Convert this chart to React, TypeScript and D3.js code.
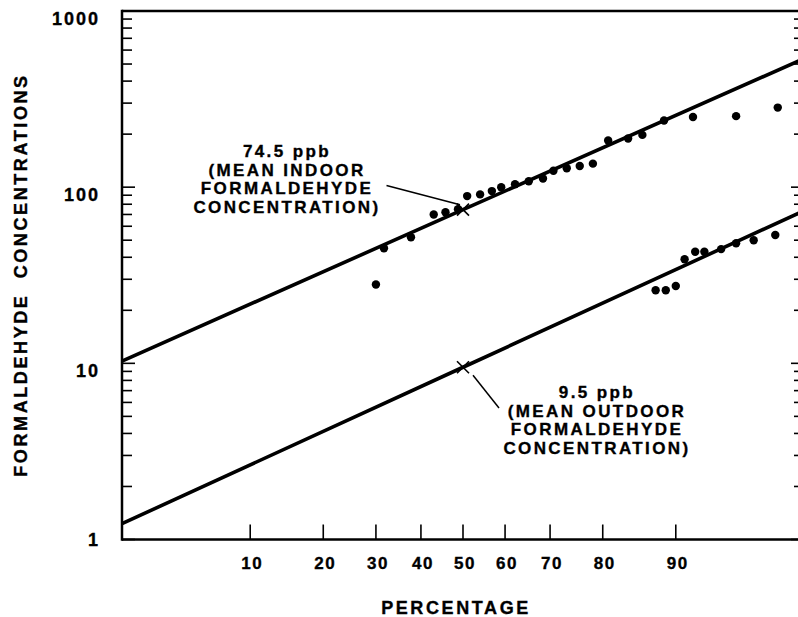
import React from "react";
import * as d3 from "d3";

// ---- data ----
const PCT_TICKS = [10, 20, 30, 40, 50, 60, 70, 80, 90];
const Y_LABELS = [1, 10, 100, 1000];

const indoorPct = [30, 31.7, 37.7, 43, 45.8, 48.8, 51, 54.1, 56.9, 59.1, 62.3, 65.4, 68.5, 70.7, 73.4, 75.9, 78.3, 80.9, 84, 86, 88.7, 91.7, 95, 97.1];
const indoorConc = [28, 45, 52, 70, 72, 75, 89, 91, 95, 100, 104, 108, 112, 124, 128, 132, 136, 184, 189, 198, 239, 250, 253, 283];

const outdoorPct = [87.7, 88.9, 90, 90.9, 91.9, 92.7, 94, 95, 96, 97];
const outdoorConc = [26, 26, 27.5, 39, 43, 43, 44.5, 48, 50, 53.5];

const indoorFitPct = [2, 50, 98];
const indoorFitConc = [10.3, 74.5, 537];
const outdoorFitPct = [2, 50, 98];
const outdoorFitConc = [1.23, 9.5, 73.5];

const indoorMean = { pct: 50, conc: 74.5 };
const outdoorMean = { pct: 50, conc: 9.5 };

const indoorNote = ["74.5 ppb", "(MEAN INDOOR", "FORMALDEHYDE", "CONCENTRATION)"];
const outdoorNote = ["9.5 ppb", "(MEAN OUTDOOR", "FORMALDEHYDE", "CONCENTRATION)"];

// inverse normal CDF (Acklam)
function probit(p: number): number {
  const a = [-3.969683028665376e1, 2.209460984245205e2, -2.759285104469687e2, 1.38357751867269e2, -3.066479806614716e1, 2.506628277459239];
  const b = [-5.447609879822406e1, 1.615858368580409e2, -1.556989798598866e2, 6.680131188771972e1, -1.328068155288572e1];
  const c = [-7.784894002430293e-3, -3.223964580411365e-1, -2.400758277161838, -2.549732539343734, 4.374664141464968, 2.938163982698783];
  const d = [7.784695709041462e-3, 3.224671290700398e-1, 2.445134137142996, 3.754408661907416];
  const plow = 0.02425;
  if (p < plow) {
    const q = Math.sqrt(-2 * Math.log(p));
    return (((((c[0] * q + c[1]) * q + c[2]) * q + c[3]) * q + c[4]) * q + c[5]) / ((((d[0] * q + d[1]) * q + d[2]) * q + d[3]) * q + 1);
  }
  if (p <= 1 - plow) {
    const q = p - 0.5;
    const r = q * q;
    return ((((((a[0] * r + a[1]) * r + a[2]) * r + a[3]) * r + a[4]) * r + a[5]) * q) / (((((b[0] * r + b[1]) * r + b[2]) * r + b[3]) * r + b[4]) * r + 1);
  }
  const q = Math.sqrt(-2 * Math.log(1 - p));
  return -(((((c[0] * q + c[1]) * q + c[2]) * q + c[3]) * q + c[4]) * q + c[5]) / ((((d[0] * q + d[1]) * q + d[2]) * q + d[3]) * q + 1);
}

const W = 798;
const H = 617;
const L = 122;
const R = 804;
const T = 11;
const B = 539.5;

const zScale = d3.scaleLinear().domain([probit(0.02), probit(0.98)]).range([L, R]);
const x = (pct: number) => zScale(probit(pct / 100));
const y = d3.scaleLog().domain([1, 1000]).range([B, T]);

const FONT = "'Liberation Sans', Arial, Helvetica, sans-serif";
const textStyle: React.CSSProperties = {
  fontFamily: FONT,
  fontWeight: "bold",
  fontSize: 17,
  letterSpacing: 2.4,
  stroke: "#000",
  strokeWidth: 0.35,
};

function Cross({ cx, cy }: { cx: number; cy: number }) {
  const s = 6;
  return (
    <g stroke="#000" strokeWidth={1.6}>
      <line x1={cx - s} y1={cy - s} x2={cx + s} y2={cy + s} />
      <line x1={cx - s} y1={cy + s} x2={cx + s} y2={cy - s} />
    </g>
  );
}

export default function App() {
  const line = d3
    .line<[number, number]>()
    .x((d) => x(d[0]))
    .y((d) => y(d[1]));
  const indoorFit = indoorFitPct.map((p, i) => [p, indoorFitConc[i]] as [number, number]);
  const outdoorFit = outdoorFitPct.map((p, i) => [p, outdoorFitConc[i]] as [number, number]);
  const yTicks = y.ticks();

  const ix = x(indoorMean.pct);
  const iy = y(indoorMean.conc);
  const ox = x(outdoorMean.pct);
  const oy = y(outdoorMean.conc);

  return (
    <svg
      width={W}
      height={H}
      style={{ position: "absolute", left: 0, top: 0, background: "#fff" }}
    >
      <rect x={0} y={0} width={W} height={H} fill="#fff" />
      {/* frame */}
      <g stroke="#000" strokeWidth={2.5} fill="none">
        <line x1={L} y1={T} x2={R} y2={T} />
        <line x1={L} y1={T - 1.2} x2={L} y2={B + 1.2} />
        <line x1={L} y1={B} x2={R} y2={B} />
        <line x1={R} y1={T} x2={R} y2={B} />
      </g>
      {/* y ticks left & right */}
      <g stroke="#000" strokeWidth={1.6}>
        {yTicks.map((t, i) => {
          const major = Math.abs(Math.log10(t) - Math.round(Math.log10(t))) < 1e-9;
          const len = major ? 13 : 10;
          return (
            <g key={i}>
              <line x1={L} x2={L + len} y1={y(t)} y2={y(t)} />
              <line x1={R} x2={R - len} y1={y(t)} y2={y(t)} />
            </g>
          );
        })}
      </g>
      {/* y tick labels */}
      {Y_LABELS.map((v, i) => (
        <text
          key={v}
          x={100}
          y={y(v) + (i === 0 ? 6.5 : 13.5)}
          textAnchor="end"
          style={{ ...textStyle, fontSize: 18, letterSpacing: 2 }}
        >
          {v}
        </text>
      ))}
      {/* x ticks */}
      <g stroke="#000" strokeWidth={1.6}>
        {PCT_TICKS.map((p) => (
          <line key={p} x1={x(p)} x2={x(p)} y1={B} y2={B - 15} />
        ))}
      </g>
      {PCT_TICKS.map((p) => (
        <text key={p} x={x(p) + 2} y={569} textAnchor="middle" style={{ ...textStyle, letterSpacing: 1.5 }}>
          {p}
        </text>
      ))}
      {/* axis titles */}
      <text x={456} y={614} textAnchor="middle" style={{ ...textStyle, fontSize: 18, letterSpacing: 2.6 }}>
        PERCENTAGE
      </text>
      <text
        transform={`translate(27,${275}) rotate(-90)`}
        textAnchor="middle"
        style={{ ...textStyle, fontSize: 18, letterSpacing: 2.6, whiteSpace: "pre" }}
      >
        {"FORMALDEHYDE  CONCENTRATIONS"}
      </text>
      {/* fitted lines */}
      <path d={line(indoorFit) || ""} stroke="#000" strokeWidth={3.6} fill="none" />
      <path d={line(outdoorFit) || ""} stroke="#000" strokeWidth={3.6} fill="none" />
      {/* points */}
      {indoorPct.map((p, i) => (
        <circle key={"i" + i} cx={x(p)} cy={y(indoorConc[i])} r={4.2} fill="#000" />
      ))}
      {outdoorPct.map((p, i) => (
        <circle key={"o" + i} cx={x(p)} cy={y(outdoorConc[i])} r={4.2} fill="#000" />
      ))}
      {/* mean markers */}
      <Cross cx={ix} cy={iy} />
      <Cross cx={ox} cy={oy} />
      {/* annotations */}
      <line x1={386.5} y1={185.5} x2={ix - 3} y2={iy - 5} stroke="#000" strokeWidth={1.5} />
      <line x1={ox + 10} y1={oy + 8} x2={499} y2={408} stroke="#000" strokeWidth={1.5} />
      {indoorNote.map((s, i) => (
        <text key={"in" + i} x={287} y={157 + i * 18.7} textAnchor="middle" style={textStyle}>
          {s}
        </text>
      ))}
      {outdoorNote.map((s, i) => (
        <text key={"on" + i} x={597} y={398 + i * 18.7} textAnchor="middle" style={textStyle}>
          {s}
        </text>
      ))}
    </svg>
  );
}
